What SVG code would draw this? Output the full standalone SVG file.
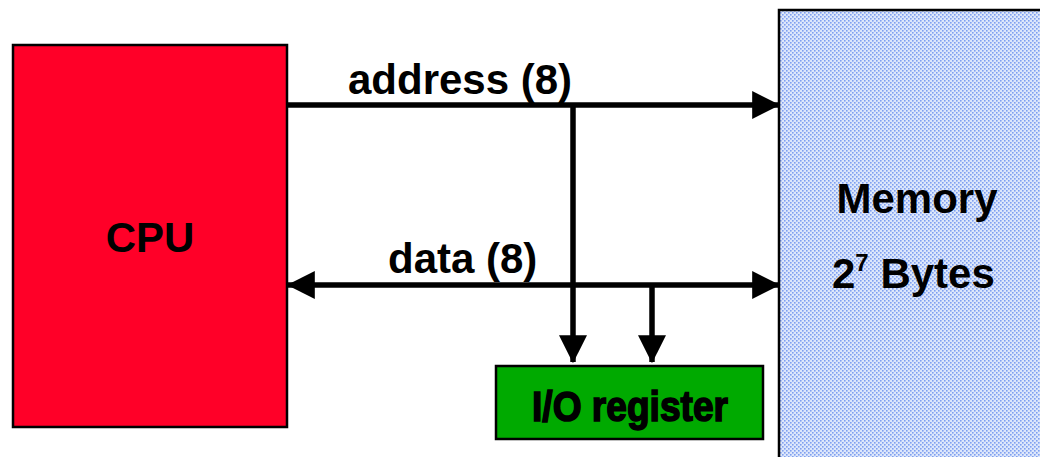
<svg xmlns="http://www.w3.org/2000/svg" width="1040" height="457" viewBox="0 0 1040 457">
  <style>
    .lbl { font-family: "Liberation Sans", Arial, sans-serif; font-weight: bold; font-size: 42px; fill: #000; }
    .box { stroke: #000; stroke-width: 2.5; }
    .bus { stroke: #000; stroke-width: 5.5; fill: none; }
  </style>
  <defs>
    <!-- dotted fill of the memory block -->
    <pattern id="dots" width="4" height="4" patternUnits="userSpaceOnUse">
      <rect width="4" height="4" fill="#dde7fb"/>
      <rect x="0" y="0" width="1.6" height="1.6" fill="#7f9ff0"/>
      <rect x="2" y="2" width="1.6" height="1.6" fill="#7f9ff0"/>
    </pattern>
    <marker id="head" markerUnits="userSpaceOnUse" markerWidth="28" markerHeight="28" viewBox="0 0 24 24" refX="23" refY="12" orient="auto-start-reverse">
      <path d="M0,0 L24,12 L0,24 Z" fill="#000"/>
    </marker>
  </defs>

  <g id="memory">
    <rect class="box" x="779" y="10" width="280" height="470" fill="url(#dots)"/>
    <text class="lbl" x="917" y="213" text-anchor="middle">Memory</text>
    <text class="lbl" x="832" y="288">2<tspan font-size="24" dy="-17">7</tspan><tspan dy="17"> Bytes</tspan></text>
  </g>

  <g id="cpu">
    <rect class="box" x="13" y="45" width="274" height="382" fill="#ff0028"/>
    <text class="lbl" x="150" y="252" text-anchor="middle">CPU</text>
  </g>

  <g id="io-register">
    <rect class="box" x="496" y="366" width="267" height="73" fill="#00aa00"/>
    <text class="lbl" x="532" y="421" font-size="50" stroke="#000" stroke-width="1.6" textLength="196" lengthAdjust="spacingAndGlyphs">I/O register</text>
  </g>

  <g id="connectors">
    <!-- address bus -->
    <line class="bus" x1="287" y1="105" x2="779" y2="105" marker-end="url(#head)"/>
    <line class="bus" x1="573" y1="105" x2="573" y2="362" marker-end="url(#head)"/>
    <!-- data bus -->
    <line class="bus" x1="288" y1="285" x2="779" y2="285" marker-start="url(#head)" marker-end="url(#head)"/>
    <line class="bus" x1="652" y1="285" x2="652" y2="362" marker-end="url(#head)"/>
    <text class="lbl" x="348" y="94">address (8)</text>
    <text class="lbl" x="388" y="273">data (8)</text>
  </g>
</svg>
